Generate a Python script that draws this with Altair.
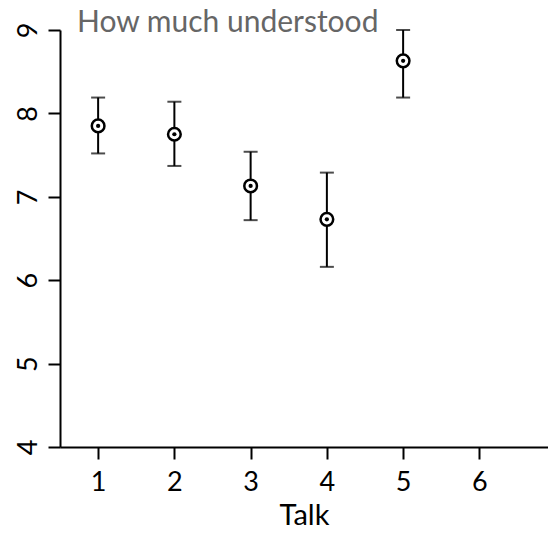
import altair as alt
import pandas as pd

talks = [1, 2, 3, 4, 5]
means = [7.85, 7.75, 7.13, 6.73, 8.63]
lows = [7.52, 7.37, 6.72, 6.16, 8.19]
highs = [8.19, 8.14, 7.54, 7.29, 9.0]
title_text = ["How much understood"]

df = pd.DataFrame({"talk": talks, "mean": means, "low": lows, "high": highs})

FONT = "Lato"
xs = alt.Scale(domain=[0.5, 6.9], nice=False, zero=False)
ys = alt.Scale(domain=[4, 9], nice=False, zero=False)

xax = alt.Axis(values=[1, 2, 3, 4, 5, 6], format="d", title="Talk", grid=False, labelFontSize=27,
               titleFontSize=29, labelFont=FONT, titleFont=FONT, titleFontWeight="normal",
               labelColor="black", titleColor="black", domainColor="black", tickColor="black",
               domainWidth=2, tickWidth=2, tickSize=12, labelPadding=10, titlePadding=6)
yax = alt.Axis(values=[4, 5, 6, 7, 8, 9], format="d", title=None, grid=False, labelFontSize=27,
               labelFont=FONT, labelColor="black", domainColor="black", tickColor="black",
               domainWidth=2, tickWidth=2, tickSize=12, labelAngle=270, labelAlign="center",
               labelBaseline="bottom", labelPadding=6)

X = alt.X("talk:Q", scale=xs, axis=xax, title="Talk")

def Y(field):
    return alt.Y(field, type="quantitative", scale=ys, axis=yax)

base = alt.Chart(df)

rules = base.mark_rule(color="black", strokeWidth=2).encode(x=X, y=Y("low"), y2="high:Q")
caps_lo = base.mark_tick(color="black", orient="horizontal", size=14, thickness=2).encode(x=X, y=Y("low"))
caps_hi = base.mark_tick(color="black", orient="horizontal", size=14, thickness=2).encode(x=X, y=Y("high"))
rings = base.mark_point(shape="circle", size=160, stroke="black", strokeWidth=2.5,
                        fill="white", fillOpacity=1, opacity=1).encode(x=X, y=Y("mean"))
dots = base.mark_point(shape="circle", size=18, filled=True, color="black", opacity=1).encode(
    x=X, y=Y("mean"))

title = alt.Chart(pd.DataFrame({"t": title_text})).mark_text(
    font=FONT, fontSize=30, color="#666666", align="left", baseline="alphabetic"
).encode(text="t:N", x=alt.value(17), y=alt.value(2))

chart = alt.layer(rules, caps_lo, caps_hi, rings, dots, title).properties(
    width=488, height=417,
    autosize=alt.AutoSizeParams(type="none"),
    padding={"left": 60, "top": 30, "right": 0, "bottom": 91},
    background="white",
).configure_view(stroke=None)

chart.save("out.html", embed_options={"renderer": "svg", "actions": False})
